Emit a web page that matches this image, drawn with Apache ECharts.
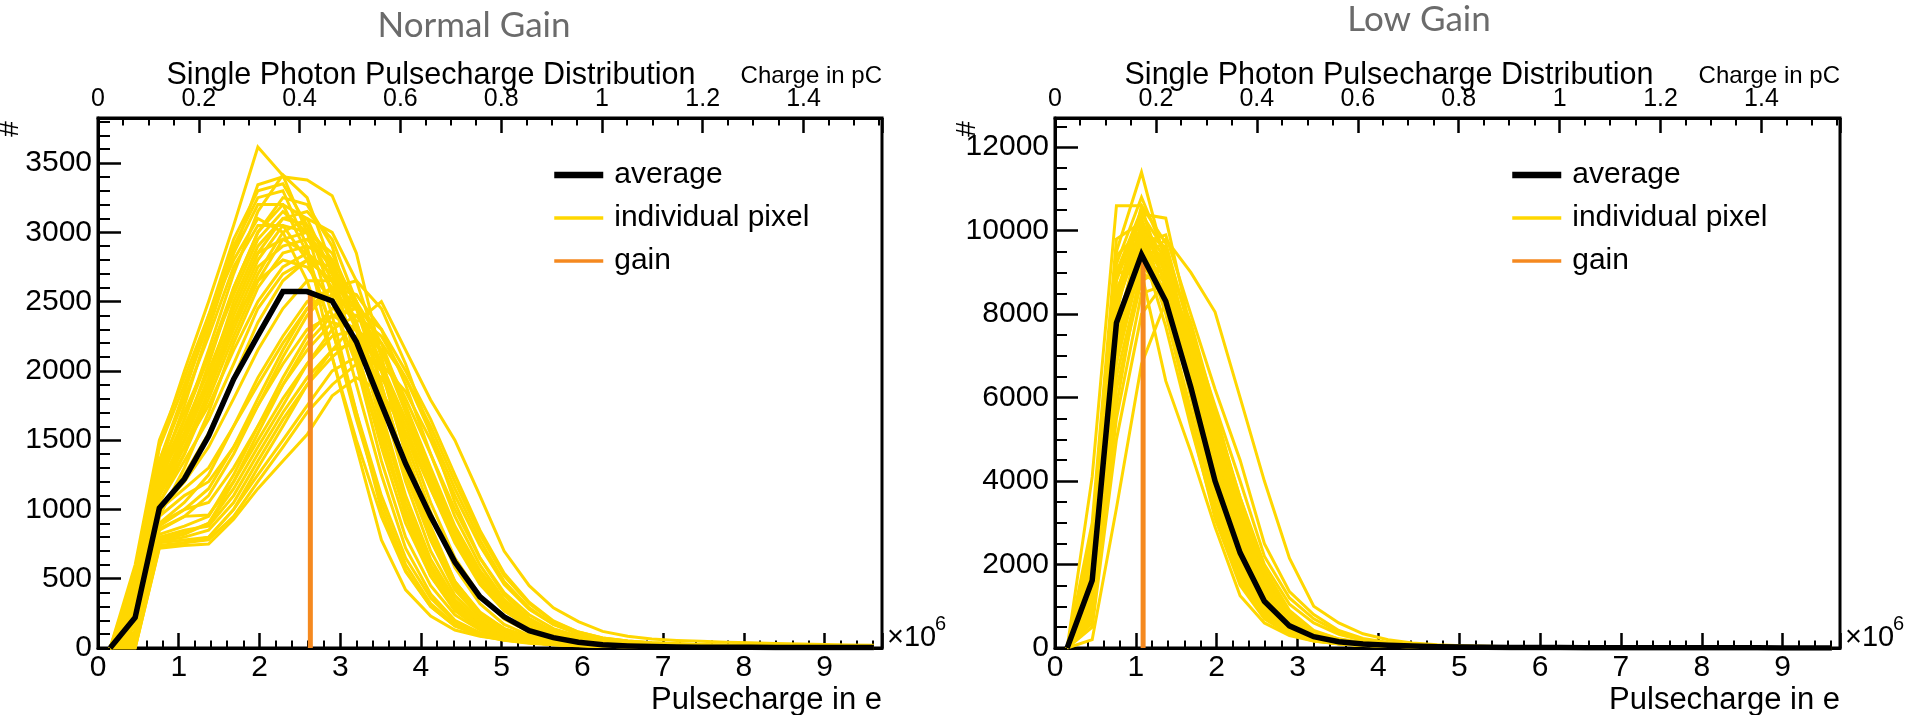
<!DOCTYPE html>
<html><head><meta charset="utf-8">
<script src="https://cdn.jsdelivr.net/npm/echarts@6/dist/echarts.min.js"></script>
<style>html,body{margin:0;padding:0;background:#fff}#c{width:1915px;height:715px}</style>
</head><body><div id="c"></div><script>
// ---- bin centres (in units of 10^6 e) ----
const bins = [0.15,0.46,0.76,1.07,1.37,1.68,1.98,2.29,2.59,2.90,3.20,3.51,3.81,4.12,4.42,4.73,5.03,5.34,5.64,5.95,6.25,6.56,6.86,7.17,7.47,7.78,8.08,8.39,8.69,9.00,9.30,9.61];

// ---- Normal gain ----
const normalAverage = [0,220,1010,1220,1530,1940,2255,2572,2572,2505,2210,1760,1330,950,620,370,225,125,75,42,24,15,10,8,6,5,5,4,4,3,3,3];
const nA1 = [0,500,1450,2000,2500,3050,3616,3410,3000,2400,1700,1000,560,300,160,95,60,40,28,20,14,10,8,6,5,4,4,3,3,2,2,2];
const nA2 = [0,420,1300,1850,2350,2900,3250,3300,2900,2100,1450,780,420,230,130,85,60,40,25,18,12,9,7,6,5,4,4,3,3,2,2,2];
const nA3 = [0,380,1250,1750,2300,2850,3343,3400,3378,3264,2850,2100,1400,850,480,260,140,80,50,30,20,14,10,8,6,5,4,4,3,3,2,2];
const nA4 = [0,350,1200,1650,2150,2700,3150,3415,3250,2750,2050,1350,800,450,240,130,75,45,30,20,14,10,8,6,5,4,3,3,2,2,2,1];
const nA5 = [0,300,1150,1550,2050,2600,3000,3200,3100,2700,2100,1450,900,520,280,150,85,50,32,22,15,11,8,6,5,4,3,3,2,2,2,1];
const nA6 = [0,450,1350,1800,2250,2750,3050,3050,2800,2300,1700,1100,650,360,190,110,65,40,27,19,13,10,8,6,5,4,3,3,2,2,2,1];
const nA7 = [0,250,1100,1500,1950,2500,2900,3100,3050,2800,2300,1650,1050,600,330,180,100,60,38,25,17,12,9,7,5,4,4,3,3,2,2,2];
const nA8 = [0,320,1200,1600,2000,2450,2850,2950,2850,2600,2150,1550,1000,580,320,170,95,55,35,24,16,12,9,7,5,4,4,3,3,2,2,2];
const nA9 = [0,200,1050,1400,1850,2350,2750,2900,2950,2750,2350,1800,1200,700,380,200,110,65,40,26,18,13,10,7,6,5,4,3,3,2,2,2];
const nA10 = [0,380,1300,1700,2100,2600,3000,3250,3200,2900,2300,1600,950,520,270,140,80,48,30,20,14,10,8,6,5,4,3,3,2,2,2,1];
const nA11 = [0,280,1150,1500,1900,2350,2650,2800,2750,2500,2050,1500,980,560,300,160,90,55,35,23,16,12,9,7,5,4,4,3,3,2,2,2];
const nA12 = [0,150,950,1300,1700,2200,2600,2850,2900,2800,2500,2000,1400,850,470,250,140,80,50,32,22,15,11,8,6,5,4,4,3,3,2,2];
const nA13 = [0,600,1500,1950,2400,2800,3100,3000,2650,2100,1500,950,550,300,160,90,55,35,24,17,12,9,7,5,4,4,3,3,2,2,2,1];
const nA14 = [0,230,1100,1450,1850,2300,2700,3000,3100,3000,2650,2100,1450,880,480,250,135,75,45,30,20,14,10,8,6,5,4,3,3,2,2,2];
const nB1 = [0,0,720,740,750,930,1150,1350,1540,1820,1950,1850,1550,1150,780,480,280,160,95,60,40,28,22,18,15,13,11,10,9,8,7,6];
const nB2 = [0,20,760,780,800,1000,1250,1500,1750,2000,2100,1950,1650,1250,850,540,320,190,115,75,50,36,28,23,19,16,14,12,10,9,8,7];
const nB3 = [0,50,800,850,880,1100,1400,1700,1950,2150,2200,2000,1650,1200,800,480,270,150,90,55,37,27,21,17,14,12,10,9,8,7,6,5];
const nB4 = [0,10,740,760,800,1000,1300,1600,1900,2150,2350,2500,2150,1790,1500,1100,700,450,290,190,120,85,65,55,48,42,37,33,29,25,22,20];
const nB5 = [0,80,850,950,960,1200,1500,1800,2050,2250,2300,2150,1800,1400,1000,650,400,240,140,85,55,40,30,24,20,17,14,12,10,9,8,7];
const nB6 = [0,30,780,820,900,1150,1450,1750,2050,2300,2400,2250,1950,1550,1150,780,480,290,170,100,65,45,34,27,22,18,15,13,11,10,9,8];
const nB7 = [0,100,900,1000,1050,1300,1600,1900,2150,2350,2300,2050,1650,1200,800,490,290,170,100,62,40,29,22,18,15,12,10,9,8,7,6,5];
const nB8 = [0,60,820,880,950,1250,1600,1950,2250,2450,2400,2150,1750,1300,880,560,340,200,120,75,50,36,28,22,18,15,13,11,10,9,8,7];
const nB9 = [0,40,770,800,850,1050,1350,1650,1900,2100,2250,2200,1950,1600,1200,820,520,320,190,115,72,50,38,30,24,20,17,15,13,11,10,9];
const nB10 = [0,120,950,1100,1200,1450,1750,2050,2300,2400,2300,2000,1600,1150,760,460,270,155,92,57,38,27,21,17,14,12,10,9,8,7,6,5];
const nB11 = [0,0,730,760,780,950,1200,1450,1700,1900,2050,2050,1850,1500,1100,740,460,280,170,105,68,48,36,29,24,20,17,15,13,11,10,9];
const nB12 = [0,150,1000,1150,1300,1600,1900,2200,2450,2550,2450,2150,1700,1250,850,530,310,180,105,65,42,30,23,18,15,12,10,9,8,7,6,5];
const nC1 = [0,150,1000,1200,1450,1800,2150,2450,2650,2650,2450,2050,1550,1050,650,380,210,115,65,40,26,18,13,10,8,6,5,4,4,3,3,2];
const nC2 = [0,100,900,1050,1250,1600,1950,2250,2500,2600,2500,2200,1750,1250,820,500,290,165,95,58,38,26,19,15,12,10,8,7,6,5,5,4];
const nC3 = [0,260,1150,1450,1750,2150,2500,2750,2850,2700,2350,1850,1300,820,460,250,135,75,45,28,19,14,10,8,6,5,4,4,3,3,2,2];
const nC4 = [0,200,1050,1350,1650,2050,2450,2700,2800,2650,2300,1800,1250,780,440,240,130,72,43,28,19,13,10,8,6,5,4,3,3,2,2,2];
const nC5 = [0,350,1250,1650,2100,2550,2950,3150,3000,2650,2150,1550,980,560,300,160,90,52,32,21,15,11,8,6,5,4,3,3,2,2,2,1];
const nC6 = [0,400,1350,1850,2400,2950,3300,3350,3050,2550,1900,1250,720,390,200,110,65,40,26,18,13,9,7,6,5,4,3,3,2,2,2,1];
const nC7 = [0,70,860,950,1100,1400,1750,2100,2400,2600,2650,2450,2050,1550,1050,650,380,215,120,72,46,33,25,20,16,13,11,10,9,8,7,6];
const nC8 = [0,20,790,830,900,1200,1550,1900,2200,2400,2450,2300,2000,1650,1250,850,540,330,195,115,72,50,38,30,24,20,17,15,13,11,10,9];
const nC9 = [0,180,1000,1250,1550,1950,2350,2650,2800,2750,2500,2050,1500,980,580,320,170,92,55,34,23,16,12,9,7,6,5,4,3,3,2,2];
const nC10 = [0,550,1450,1900,2350,2850,3200,3200,2850,2300,1650,1050,600,320,170,95,58,37,25,18,13,9,7,5,4,4,3,3,2,2,2,1];
const nC11 = [0,300,1200,1500,1900,2400,2800,3050,3000,2750,2300,1700,1100,640,350,185,100,58,36,24,17,12,9,7,5,4,4,3,3,2,2,2];
const nC12 = [0,90,880,1000,1150,1450,1800,2150,2450,2600,2550,2300,1900,1400,950,600,350,200,115,70,45,32,24,19,15,13,11,9,8,7,6,5];
const nC13 = [0,330,1250,1550,1950,2450,2850,3100,3150,2950,2500,1900,1300,780,420,220,120,68,40,26,18,13,10,7,6,5,4,3,3,2,2,2];
const nC14 = [0,240,1100,1400,1800,2250,2650,2950,3000,2850,2450,1900,1300,800,450,240,130,73,44,28,19,14,10,8,6,5,4,3,3,2,2,2];
const normalPixels = [nA1,nA2,nA3,nA4,nA5,nA6,nA7,nA8,nA9,nA10,nA11,nA12,nA13,nA14,nB1,nB2,nB3,nB4,nB5,nB6,nB7,nB8,nB9,nB10,nB11,nB12,
                      nC1,nC2,nC3,nC4,nC5,nC6,nC7,nC8,nC9,nC10,nC11,nC12,nC13,nC14];
const gainNormal = 2.63, gainNormalTop = 2572;

// ---- Low gain ----
const lowAverage = [0,1620,7790,9430,8310,6250,4000,2280,1120,530,270,150,95,65,45,32,24,18,14,11,9,7,6,5,4,4,3,3,3,2,2,2];
const lR1 = [0,4100,10600,10600,8600,6000,3500,1800,850,400,200,110,70,45,30,20,14,10,8,6,5,4,3,3,2,2,2,1,1,1,1,1];
const lR2 = [0,2500,9500,11400,9200,6500,4000,2100,1000,480,240,130,80,52,35,24,17,12,9,7,5,4,3,3,2,2,2,1,1,1,1,1];
const lR3 = [0,2000,8800,10400,10300,7600,5000,2800,1400,680,330,180,105,65,44,30,21,15,11,8,6,5,4,3,3,2,2,2,1,1,1,1];
const lR4 = [0,1800,8200,9900,8800,6500,4200,2300,1100,520,260,140,85,55,37,25,18,13,9,7,5,4,3,3,2,2,2,1,1,1,1,1];
const lR5 = [0,1500,7800,9600,8500,6300,4000,2200,1050,500,250,135,82,53,36,25,17,12,9,7,5,4,3,3,2,2,2,1,1,1,1,1];
const lR6 = [0,1200,7200,9200,8400,6400,4300,2500,1250,600,290,155,92,58,39,27,19,13,10,7,5,4,3,3,2,2,2,1,1,1,1,1];
const lR7 = [0,2200,8600,9800,8000,5600,3400,1700,800,380,190,105,65,43,30,21,15,11,8,6,5,4,3,3,2,2,2,1,1,1,1,1];
const lR8 = [0,900,6500,9000,8600,6800,4700,2800,1450,700,330,175,100,63,42,29,20,14,10,8,6,4,3,3,2,2,2,1,1,1,1,1];
const lR9 = [0,3000,9800,10200,8200,5400,3100,1500,700,330,170,95,60,40,28,20,14,10,8,6,4,3,3,2,2,2,1,1,1,1,1,1];
const lR10 = [0,600,5500,8500,8700,7200,5200,3200,1650,780,360,190,110,68,45,31,21,15,11,8,6,5,4,3,3,2,2,2,1,1,1,1];
const lR11 = [0,200,3350,6800,8300,7000,5300,3400,1800,850,400,210,120,75,50,34,23,16,12,9,7,5,4,3,3,2,2,2,1,1,1,1];
const lR12 = [0,2800,9000,9000,6400,4700,2900,1250,600,300,170,100,65,44,31,22,16,12,9,7,5,4,3,3,2,2,2,1,1,1,1,1];
const lR13 = [0,700,5800,9200,9800,9000,8050,6000,4000,2150,1000,600,340,200,120,80,55,40,30,22,17,13,10,8,6,5,4,3,3,2,2,2];
const lR14 = [0,1000,7000,9700,9900,8000,6200,4500,2500,1350,800,420,230,130,80,52,36,26,19,14,10,8,6,5,4,3,3,2,2,2,1,1];
const lR15 = [0,1300,7600,10000,9600,7600,5800,4000,2200,1200,700,380,210,120,75,50,34,25,18,13,10,8,6,5,4,3,3,2,2,2,1,1];
const lR16 = [0,1700,8000,10600,9700,7500,5500,3600,2000,1050,600,330,180,105,65,44,30,22,16,12,9,7,5,4,3,3,2,2,2,1,1,1];
const lR17 = [0,1600,8400,10100,9000,6900,4500,2500,1200,560,270,145,88,56,38,26,18,13,10,7,5,4,3,3,2,2,2,1,1,1,1,1];
const lR18 = [0,2400,9200,10800,9400,6800,4300,2300,1100,500,240,128,78,50,34,23,16,12,9,7,5,4,3,3,2,2,2,1,1,1,1,1];
const lR19 = [0,1100,7000,9400,8900,7000,4800,2700,1300,620,300,160,95,60,40,27,19,14,10,7,5,4,3,3,2,2,2,1,1,1,1,1];
const lR20 = [0,1900,8900,10300,8700,6100,3700,1900,900,430,210,115,72,47,32,22,16,11,8,6,5,4,3,3,2,2,2,1,1,1,1,1];
const lR21 = [0,1400,7500,9900,9200,7200,5000,3000,1500,720,340,180,105,66,44,30,21,15,11,8,6,5,4,3,3,2,2,2,1,1,1,1];
const lR22 = [0,800,6200,8800,9100,7400,5400,3300,1700,800,370,195,112,70,46,32,22,16,11,8,6,5,4,3,3,2,2,2,1,1,1,1];
const lR23 = [0,1500,8100,10200,9300,7000,4600,2600,1250,600,290,155,92,58,39,27,19,13,10,7,5,4,3,3,2,2,2,1,1,1,1,1];
const lR24 = [0,2100,9000,10500,8900,6400,3900,2000,950,450,220,120,74,48,33,23,16,11,8,6,5,4,3,3,2,2,2,1,1,1,1,1];
const lR25 = [0,1000,6800,9300,9300,7800,5700,3500,1800,850,400,205,118,73,48,33,23,16,12,9,7,5,4,3,3,2,2,2,1,1,1,1];
const lR26 = [0,1300,7300,9500,8700,6600,4400,2400,1150,540,260,140,85,55,37,25,18,13,9,7,5,4,3,3,2,2,2,1,1,1,1,1];
const lR27 = [0,2700,9400,10000,8100,5700,3300,1600,750,360,180,100,63,42,29,20,14,10,8,6,4,3,3,2,2,2,1,1,1,1,1,1];
const lR28 = [0,1800,8500,10400,9500,7100,4900,2900,1450,700,340,180,105,65,43,30,21,15,11,8,6,5,4,3,3,2,2,2,1,1,1,1];
const lR29 = [0,500,5000,8000,8800,7600,5600,3600,1900,900,420,220,125,78,52,35,24,17,12,9,7,5,4,3,3,2,2,2,1,1,1,1];
const lR30 = [0,2300,9100,9600,7700,5300,3200,1600,760,360,180,100,63,42,29,20,14,10,8,6,4,3,3,2,2,2,1,1,1,1,1,1];
const lR31 = [0,1200,7700,9800,9300,7300,5100,3100,1550,740,350,185,108,67,45,31,21,15,11,8,6,5,4,3,3,2,2,2,1,1,1,1];
const lR32 = [0,1600,8300,10000,9100,6800,4600,2600,1300,620,300,160,95,60,40,27,19,14,10,7,5,4,3,3,2,2,2,1,1,1,1,1];
const lowPixels = [lR1,lR2,lR3,lR4,lR5,lR6,lR7,lR8,lR9,lR10,lR11,lR12,lR13,lR14,lR15,lR16,lR17,lR18,lR19,lR20,lR21,lR22,
                   lR23,lR24,lR25,lR26,lR27,lR28,lR29,lR30,lR31,lR32];
const gainLow = 1.09, gainLowTop = 9330;

// ---- axis extents ----
const xMaxE = 9.71;          // 10^6 e
const ePerPc = 6.2415;       // 10^6 e per pC
const yMaxNormal = 3825, yMaxLow = 12700;

const FONT = "'Liberation Sans', Arial, Helvetica, sans-serif";
const YELLOW = '#ffd700', ORANGE = '#f5891f';

function pts(arr){ return bins.map((x,i)=>[x, arr[i]]); }
const plain = v => String(Math.round(v*1000)/1000);

function xBottom(g){
  return {gridIndex:g, type:'value', position:'bottom', min:0, max:xMaxE, interval:1,
    axisLine:{show:true,onZero:false,lineStyle:{color:'#000',width:3}},
    axisTick:{show:true,inside:true,length:15,lineStyle:{color:'#000',width:2.5}},
    minorTick:{show:true,splitNumber:5,length:7.5,lineStyle:{color:'#000',width:2}},
    splitLine:{show:false}, minorSplitLine:{show:false},
    axisLabel:{show:true,margin:5,fontSize:30,color:'#000',fontFamily:FONT,showMaxLabel:false,showMinLabel:true,formatter:plain}};
}
function xTop(g){
  return {gridIndex:g, type:'value', position:'top', min:0, max:xMaxE/ePerPc, interval:0.2,
    axisLine:{show:true,onZero:false,lineStyle:{color:'#000',width:3}},
    axisTick:{show:true,inside:true,length:15,lineStyle:{color:'#000',width:2.5}},
    minorTick:{show:true,splitNumber:4,length:7.5,lineStyle:{color:'#000',width:2}},
    splitLine:{show:false}, minorSplitLine:{show:false},
    axisLabel:{show:true,margin:6,fontSize:25,color:'#000',fontFamily:FONT,showMaxLabel:false,showMinLabel:true,formatter:plain}};
}
function yLeft(g,max,interval,minorSplit){
  return {gridIndex:g, type:'value', position:'left', min:0, max:max, interval:interval,
    axisLine:{show:true,onZero:false,lineStyle:{color:'#000',width:3}},
    axisTick:{show:true,inside:true,length:23,lineStyle:{color:'#000',width:2.5}},
    minorTick:{show:true,splitNumber:minorSplit,length:12,lineStyle:{color:'#000',width:2}},
    splitLine:{show:false}, minorSplitLine:{show:false},
    axisLabel:{show:true,margin:6,fontSize:30,color:'#000',fontFamily:FONT,showMaxLabel:false,showMinLabel:true,formatter:plain}};
}

const series = [];
function addChart(pixels, avg, gain, gainTop, xi, yi){
  pixels.forEach(a => series.push({type:'line', name:'individual pixel', xAxisIndex:xi, yAxisIndex:yi,
    data:pts(a), symbol:'none', silent:true, animation:false, z:2,
    lineStyle:{color:YELLOW,width:3,join:'miter'}, itemStyle:{color:YELLOW}}));
  series.push({type:'line', name:'gain', xAxisIndex:xi, yAxisIndex:yi,
    data:[[gain,0],[gain,gainTop]], symbol:'none', silent:true, animation:false, z:3,
    lineStyle:{color:ORANGE,width:5}, itemStyle:{color:ORANGE}});
  series.push({type:'line', name:'average', xAxisIndex:xi, yAxisIndex:yi,
    data:pts(avg), symbol:'none', silent:true, animation:false, z:4,
    lineStyle:{color:'#000',width:5.5,join:'miter'}, itemStyle:{color:'#000'}});
}
addChart(normalPixels, normalAverage, gainNormal, gainNormalTop, 0, 0);
addChart(lowPixels, lowAverage, gainLow, gainLowTop, 2, 1);

function legendAt(left){
  return {left:left, top:155, orient:'vertical', itemWidth:49, itemHeight:20, itemGap:13,
    selectedMode:false, textStyle:{fontSize:30,color:'#000',fontFamily:FONT,padding:[0,0,0,6]},
    data:[
      {name:'average', lineStyle:{width:6.5,color:'#000'}, itemStyle:{opacity:0}},
      {name:'individual pixel', lineStyle:{width:3.3,color:YELLOW}, itemStyle:{opacity:0}},
      {name:'gain', lineStyle:{width:3.3,color:ORANGE}, itemStyle:{opacity:0}}
    ]};
}

function txt(x,y,text,size,align,opts){
  return Object.assign({type:'text', x:x, y:y, silent:true,
    style:{text:text, fontSize:size, fontFamily:FONT, fill:'#000', align:align, verticalAlign:'middle',
      textAlign:align, textVerticalAlign:'middle'}}, opts||{});
}
function chartTexts(cx, titleY, titleX, plotL, plotR, subtitle){
  return [
    {type:'text', x:cx, y:titleY, silent:true, style:{text:subtitle, fontSize:35, fontFamily:"Lato, 'Open Sans', sans-serif",
      fill:'#6b6b6b', align:'center', verticalAlign:'middle', textAlign:'center', textVerticalAlign:'middle'}},
    txt(titleX, 76, 'Single Photon Pulsecharge Distribution', 30.5, 'center'),
    txt(plotR, 76, 'Charge in pC', 24, 'right'),
    txt(plotR, 700, 'Pulsecharge in e', 31, 'right'),
    txt(plotR + 5, 638, '×10', 29, 'left'),
    txt(plotR + 53, 624, '6', 20, 'left'),
    txt(plotL - 88, 129, '#', 28, 'center', {rotation: Math.PI/2})
  ];
}

const chart = echarts.init(document.getElementById('c'), null, {renderer:'canvas'});
chart.setOption({
  animation:false,
  backgroundColor:'#ffffff',
  grid:[
    {left:98, top:118, width:784, height:530, show:true, borderColor:'#000', borderWidth:3, backgroundColor:'transparent', containLabel:false, outerBoundsMode:'none'},
    {left:1055, top:118, width:785, height:530, show:true, borderColor:'#000', borderWidth:3, backgroundColor:'transparent', containLabel:false, outerBoundsMode:'none'}
  ],
  xAxis:[xBottom(0), xTop(0), xBottom(1), xTop(1)],
  yAxis:[yLeft(0,yMaxNormal,500,5), yLeft(1,yMaxLow,2000,4)],
  legend:[legendAt(546), legendAt(1504)],
  graphic:[].concat(
    chartTexts(474, 26, 431, 98, 882, 'Normal Gain'),
    chartTexts(1419, 20, 1389, 1055, 1840, 'Low Gain')
  ),
  series:series
});
</script></body></html>
